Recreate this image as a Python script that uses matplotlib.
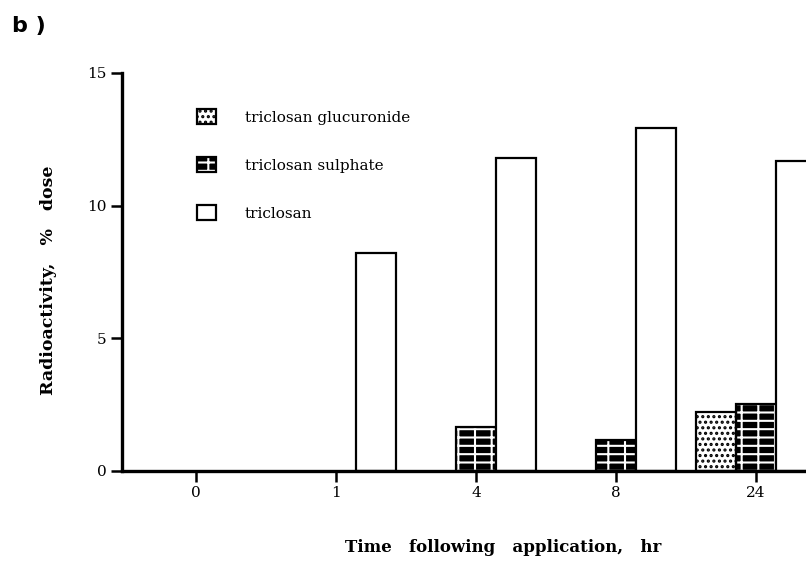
import numpy as np
import matplotlib
matplotlib.use('Agg')
import matplotlib.pyplot as plt
from matplotlib.patches import Patch

# time points (categories) and % dose of each metabolite
times = ['0', '1', '4', '8', '24']
glucuronide = [0.0, 0.0, 0.0, 0.0, 2.22]
sulphate = [0.0, 0.0, 1.66, 1.17, 2.53]
triclosan = [0.0, 8.22, 11.8, 12.93, 11.7]
labels = ['triclosan glucuronide', 'triclosan sulphate', 'triclosan']

plt.rcParams['font.family'] = ['DejaVu Serif']
plt.rcParams['hatch.linewidth'] = 1.5

fig = plt.figure(figsize=(8.06, 5.64), dpi=100)
ax = fig.add_axes([122 / 806, 93 / 564, 684 / 806, 398 / 564])

x = np.arange(len(times))
w = 0.286

# glucuronide: dotted on white
b1 = ax.bar(x - w, glucuronide, w, facecolor='white', edgecolor='black',
            hatch='...', linewidth=0, zorder=2)
o1 = ax.bar(x - w, glucuronide, w, facecolor='none', edgecolor='black', linewidth=1.6, zorder=3)
# sulphate: white brick lines on black
b2 = ax.bar(x, sulphate, w, facecolor='black', edgecolor='white',
            hatch='+-', linewidth=0, zorder=2)
o2 = ax.bar(x, sulphate, w, facecolor='none', edgecolor='black', linewidth=1.6, zorder=3)
# triclosan: open bars
b3 = ax.bar(x + w, triclosan, w, facecolor='white', edgecolor='black', linewidth=1.6, zorder=3)

# hide zero-height bars
for bars in (b1, o1, b2, o2, b3):
    for p in bars:
        if p.get_height() == 0:
            p.set_visible(False)

ax.set_xlim(-0.53, 4.357)
ax.set_ylim(0, 15)
ax.set_yticks([0, 5, 10, 15])
ax.set_xticks(x)
ax.set_xticklabels(times)

for s in ['top', 'right']:
    ax.spines[s].set_visible(False)
for s in ['left', 'bottom']:
    ax.spines[s].set_linewidth(2.4)
    ax.spines[s].set_zorder(4)
ax.tick_params(axis='both', direction='out', length=8, width=1.8, labelsize=11, pad=3)

ax.set_ylabel('Radioactivity,   %   dose', fontsize=12.5, fontweight='bold', va='center')
ax.yaxis.set_label_coords(-0.108, 0.48)
ax.set_xlabel('Time   following   application,   hr', fontsize=12, fontweight='bold', va='center')
ax.xaxis.set_label_coords(0.557, -0.193)

# legend handles
handles = [(Patch(facecolor='white', edgecolor='black', hatch='...', linewidth=0),
            Patch(facecolor='none', edgecolor='black', linewidth=1.6)),
           (Patch(facecolor='black', edgecolor='white', hatch='+-', linewidth=0),
            Patch(facecolor='none', edgecolor='black', linewidth=1.6)),
           Patch(facecolor='white', edgecolor='black', linewidth=1.6)]
ax.legend(handles, labels,
          loc='upper left', bbox_to_anchor=(0.09, 0.945), frameon=False,
          handlelength=1.2, handleheight=1.2, labelspacing=2.1, handletextpad=1.9,
          fontsize=11)

fig.text(12 / 806, 1 - 26 / 564, 'b )', fontsize=16, fontweight='bold',
         family='DejaVu Sans', va='center')

fig.savefig('out.png', dpi=100)
